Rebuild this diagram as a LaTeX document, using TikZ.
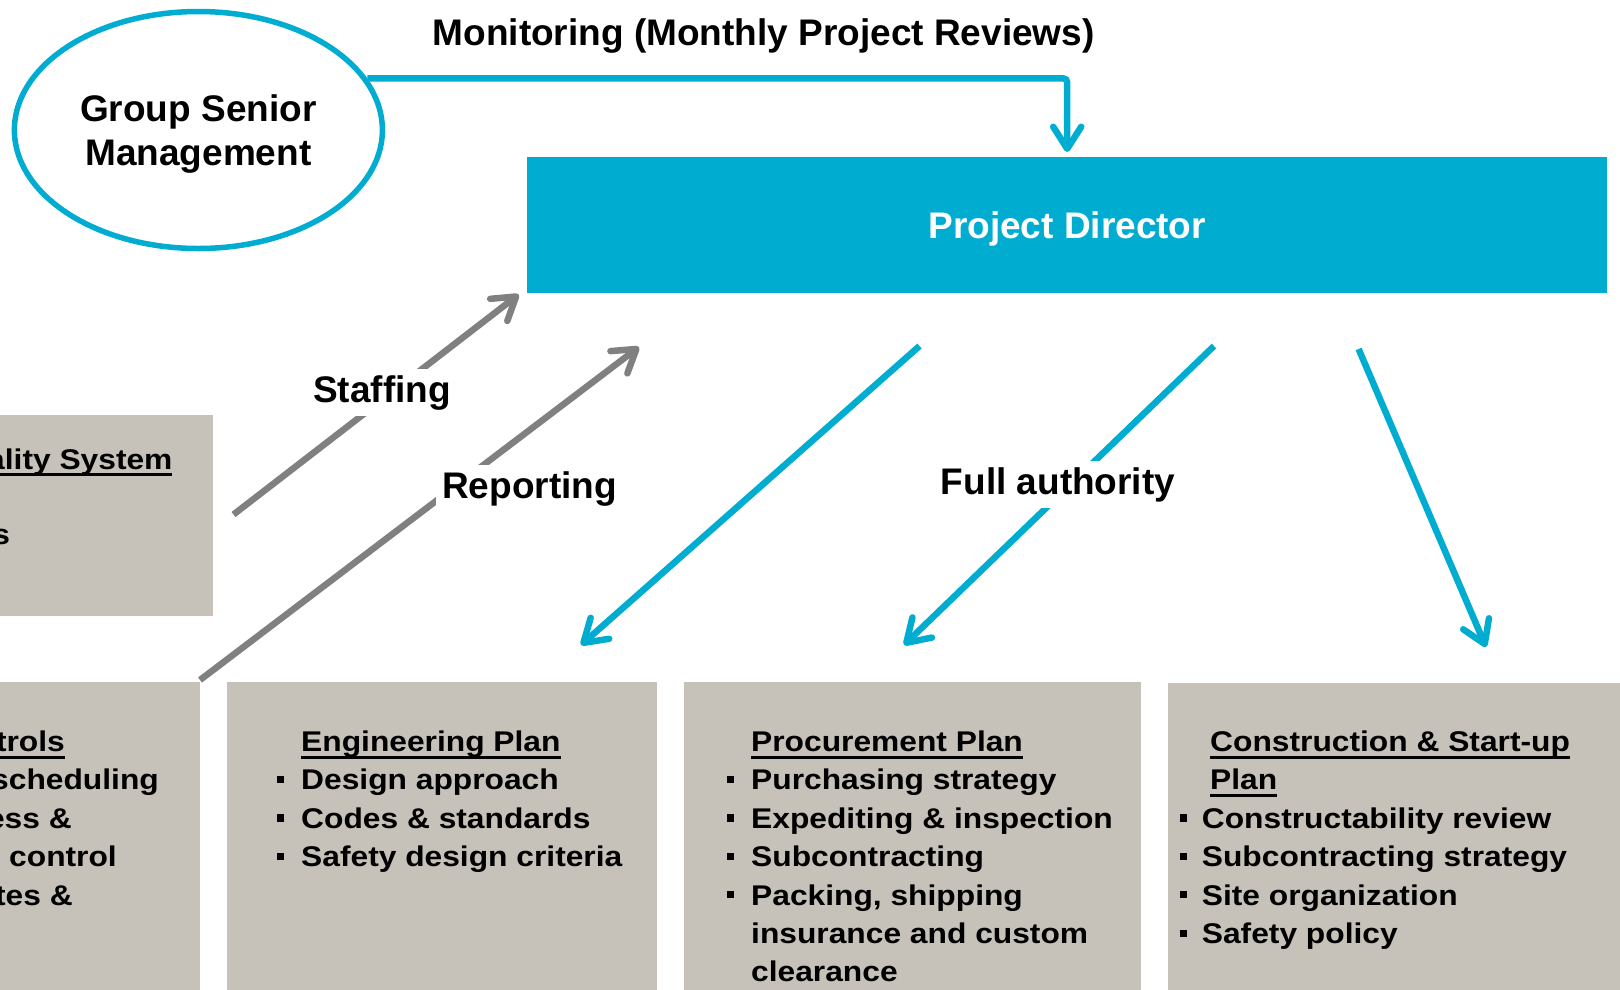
\documentclass[tikz,border=0pt]{standalone}
\usepackage{fontspec}
\usetikzlibrary{arrows.meta,shapes.geometric}
\newfontfamily\bodyf{Liberation Sans}[FakeStretch=1.114]
\newfontfamily\headf{Liberation Sans}
\definecolor{pblue}{RGB}{0,172,208}
\definecolor{pgray}{RGB}{128,128,128}
\definecolor{pbox}{RGB}{198,194,186}
\newsavebox\ulbx
\newcommand\ulx[1]{\sbox\ulbx{#1}\rlap{\rule[-7pt]{\wd\ulbx}{2.6pt}}\usebox\ulbx}
\newcommand\bul{\llap{\rule[6.7pt]{6.8pt}{7.2pt}\hspace{17.5pt}}}
\newcommand\bulc{\llap{\rule[6.7pt]{6.8pt}{7.2pt}\hspace{15pt}}}
\begin{document}
\begin{tikzpicture}[x=1pt,y=-1pt,
  gbox/.style={fill=pbox, draw=none, inner sep=0pt, anchor=north west},
  body/.style={inner sep=0pt, anchor=base west, font=\bodyf\bfseries\fontsize{28.5}{38.4}\selectfont},
  bodyr/.style={body, anchor=base east},
  big/.style={font=\headf\bfseries\fontsize{37}{44.5}\selectfont},
  lbl/.style={big, fill=white, inner sep=6pt, anchor=base},
  bluearr/.style={draw=pblue, line width=6.5pt, -{Straight Barb[length=22pt,width=28pt,round]}},
  grayarr/.style={draw=pgray, line width=6.5pt, -{Straight Barb[length=22pt,width=28pt,round]}}
]
\clip (0,0) rectangle (1620,989);
% gray boxes
\node[gbox, minimum width=222.7pt, minimum height=201pt] (qbox) at (-10,415) {};
\node[gbox, minimum width=209.3pt, minimum height=320pt] (kbox) at (-10,682) {};
\node[gbox, minimum width=430pt, minimum height=320pt] (ebox) at (226.7,681.7) {};
\node[gbox, minimum width=456.3pt, minimum height=320pt] (pbox) at (684,681.7) {};
\node[gbox, minimum width=460pt, minimum height=320pt] (cbox) at (1168,683) {};
% top nodes
\node[ellipse, draw=pblue, line width=5.5pt, minimum width=368pt, minimum height=237pt,
      inner sep=0pt, big, align=center, text depth=0pt] (gsm) at (198.4,130) {Group Senior\\Management};
\node[fill=pblue, anchor=north west, minimum width=1080pt, minimum height=135.4pt,
      inner sep=0pt, text=white, big, text depth=0pt] (pd) at (527,157) {Project Director};
\node[big, anchor=base, inner sep=0pt] (mon) at (763.7,45.5) {Monitoring (Monthly Project Reviews)};
% monitoring connector
\draw[bluearr, rounded corners=4pt] (gsm.17) -| ([yshift=5pt]pd.north);
% arrow end points
\coordinate (sA) at (233.5,514.5); \coordinate (sB) at (518.7,294.5);
\coordinate (rA) at (200,680);     \coordinate (rB) at (639,347);
\coordinate (b1A) at (919.5,346);  \coordinate (b1B) at (581,645);
\coordinate (b2A) at (1214,346);   \coordinate (b2B) at (904,645);
\coordinate (b3A) at (1358.6,349); \coordinate (b3B) at (1486,647);
\draw[grayarr] (sA) -- (sB);
\draw[grayarr] (rA) -- (rB);
\draw[bluearr] (b1A) -- (b1B);
\draw[bluearr] (b2A) -- (b2B);
\draw[bluearr] (b3A) -- (b3B);
\node[lbl] (stl) at (382,402) {Staffing};
\node[lbl] (rpl) at (529.5,498.3) {Reporting};
\node[lbl] (fal) at (1058,494) {Full authority};
% quality box text (cut by the left edge)
\node[bodyr] (q0) at (172.7,469) {\ulx{ality System}};
\node[bodyr] (q1) at (10.3,544) {s};
% controls box text (cut by the left edge)
\node[bodyr] (k0) at (65,751.5) {\ulx{trols}};
\node[bodyr] (k1) at (159,789.9) {scheduling};
\node[bodyr] (k2) at (72,828.3) {ess \&};
\node[bodyr] (k3) at (117,866.7) {control};
\node[bodyr] (k4) at (73,905.1) {tes \&};
% engineering
\node[body] (e0) at (301,751.5) {\ulx{Engineering Plan}};
\node[body] (e1) at (301,789.9) {\bul Design approach};
\node[body] (e2) at (301,828.3) {\bul Codes \& standards};
\node[body] (e3) at (301,866.7) {\bul Safety design criteria};
% procurement
\node[body] (p0) at (751,751.5) {\ulx{Procurement Plan}};
\node[body] (p1) at (751,789.9) {\bul Purchasing strategy};
\node[body] (p2) at (751,828.3) {\bul Expediting \& inspection};
\node[body] (p3) at (751,866.7) {\bul Subcontracting};
\node[body] (p4) at (751,905.1) {\bul Packing, shipping};
\node[body] (p5) at (751,943.5) {insurance and custom};
\node[body] (p6) at (751,981.9) {clearance};
% construction
\node[body] (c0) at (1210,751.5) {\ulx{Construction \& Start-up}};
\node[body] (c1) at (1210,789.9) {\ulx{Plan}};
\node[body] (c2) at (1201.7,828.3) {\bulc Constructability review};
\node[body] (c3) at (1201.7,866.7) {\bulc Subcontracting strategy};
\node[body] (c4) at (1201.7,905.1) {\bulc Site organization};
\node[body] (c5) at (1201.7,943.5) {\bulc Safety policy};
\end{tikzpicture}
\end{document}
